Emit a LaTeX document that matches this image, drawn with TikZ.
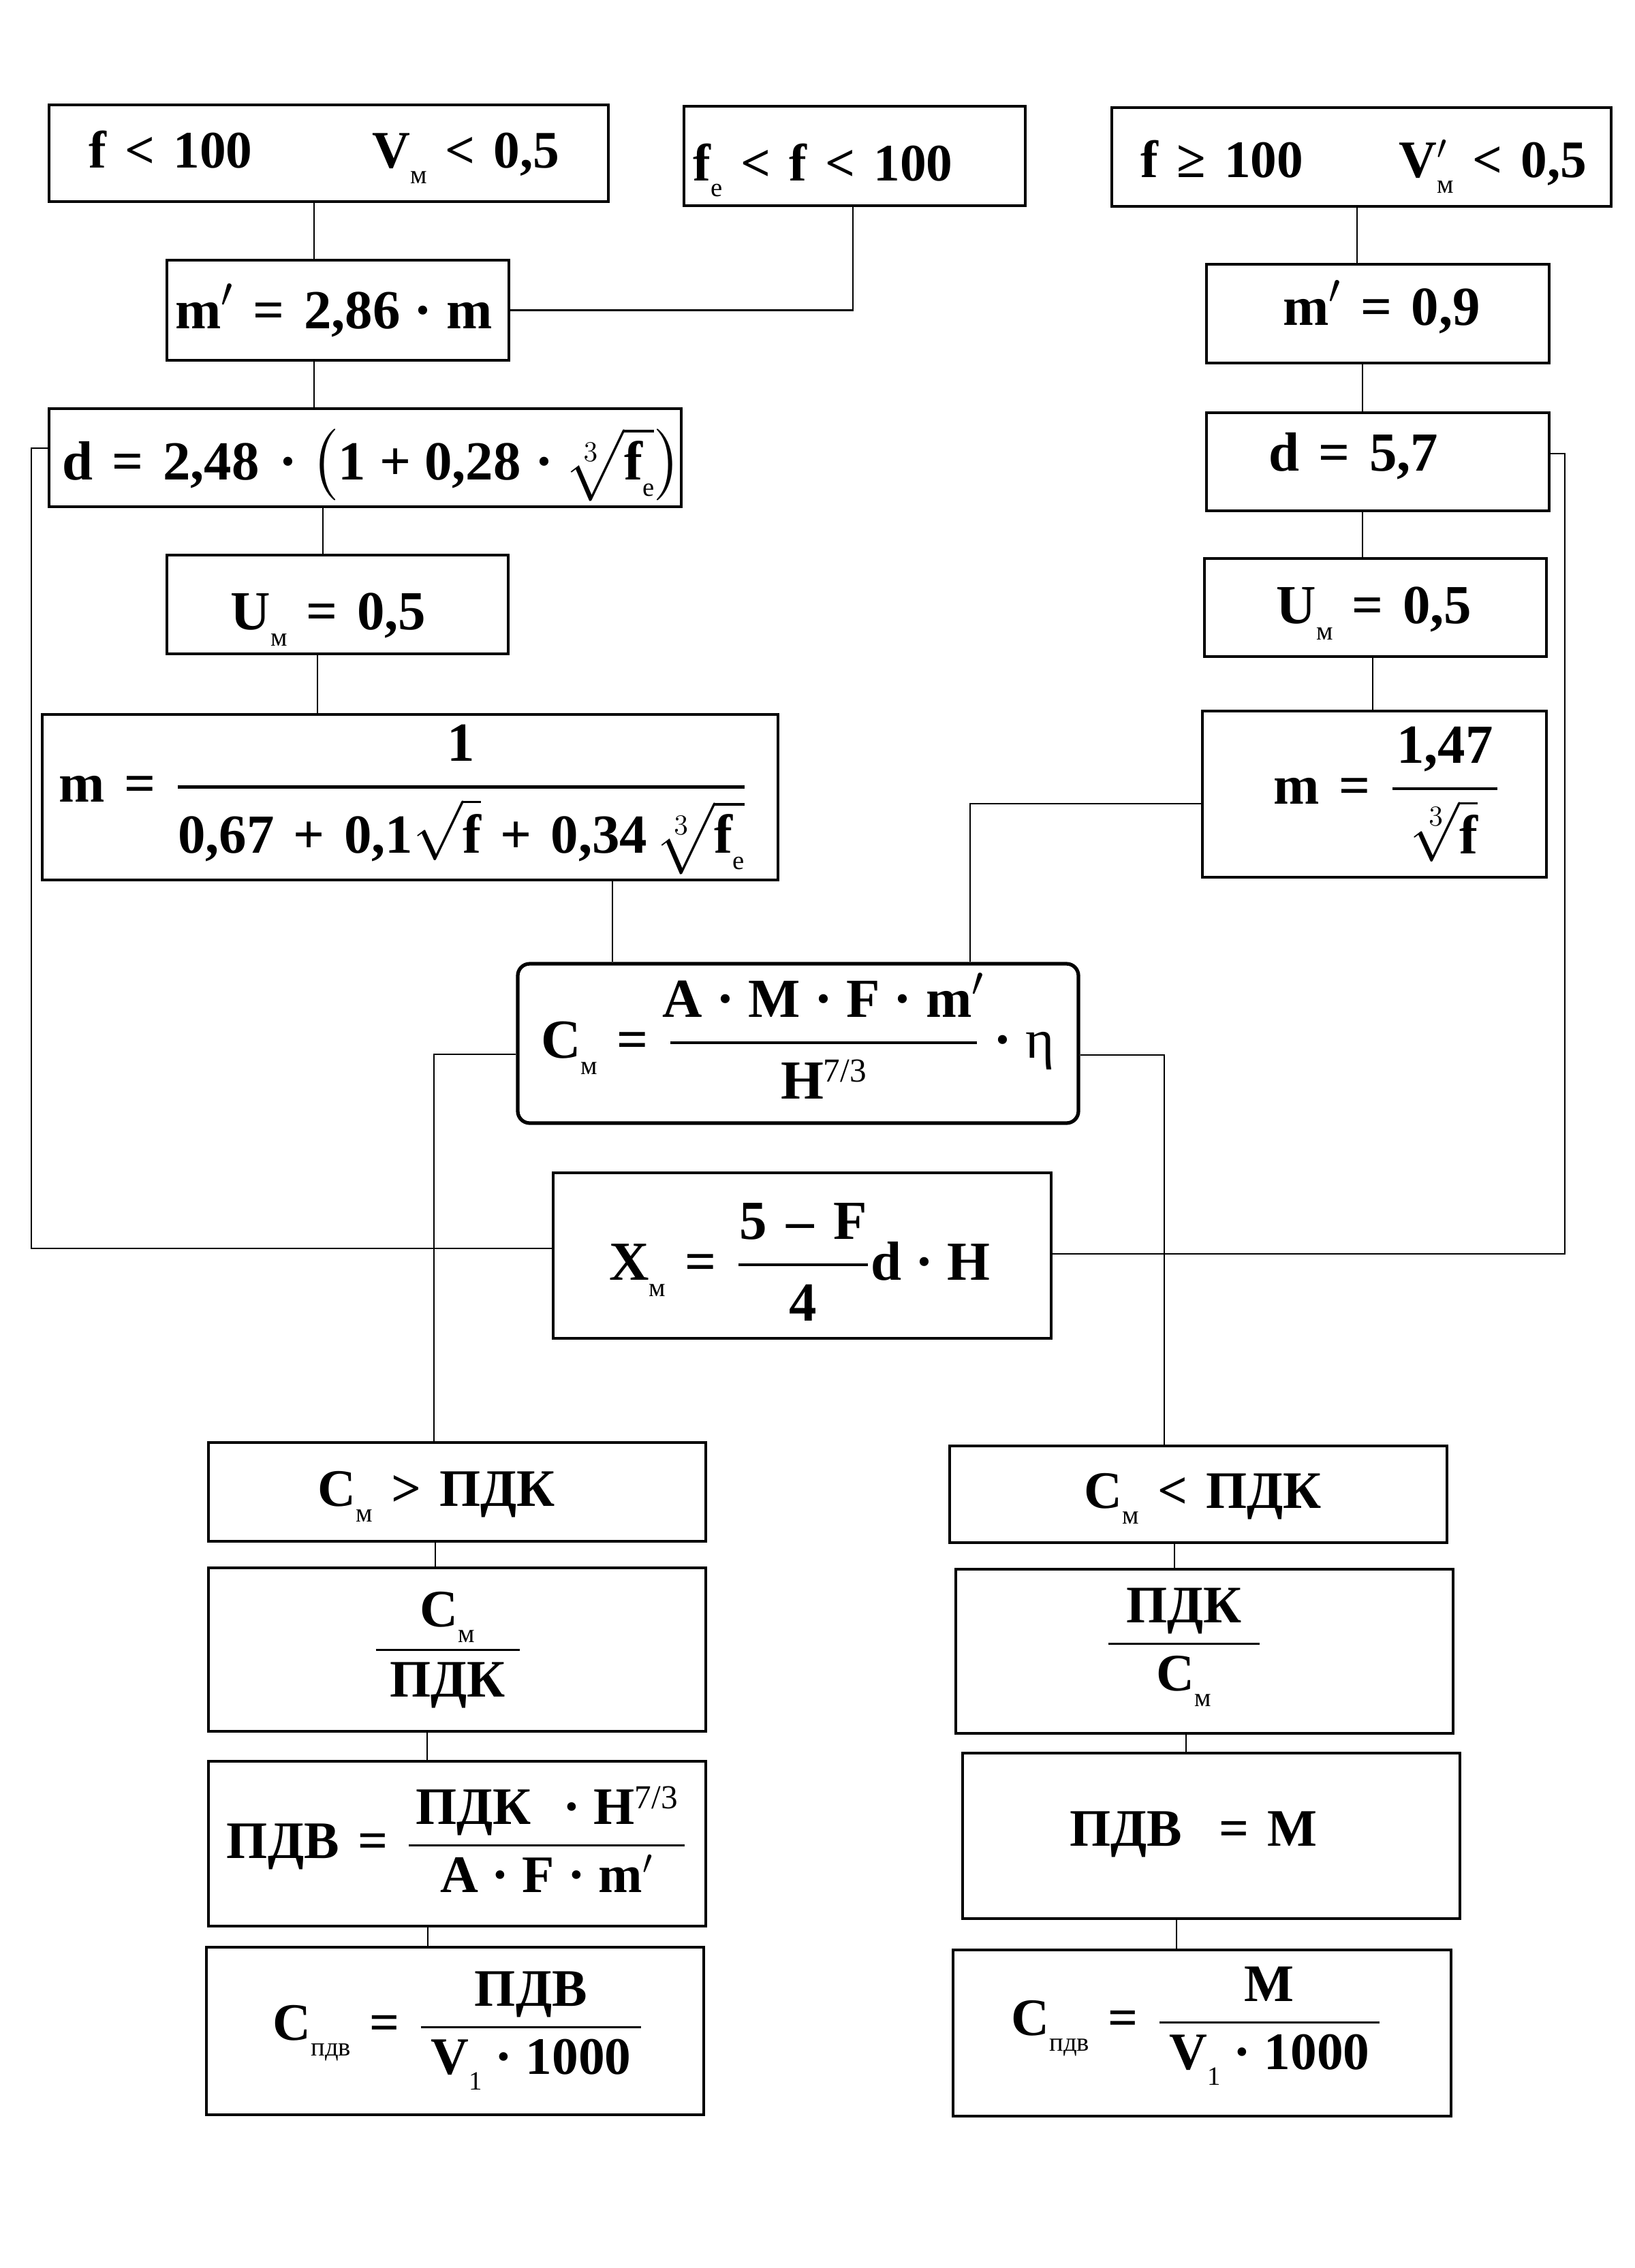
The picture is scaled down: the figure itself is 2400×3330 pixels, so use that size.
\documentclass[tikz,border=0pt]{standalone}
\usepackage{amsmath}
\usepackage{fontspec}
\setmainfont{Liberation Serif}
\usetikzlibrary{fit}
\newcommand\gp{\hspace{0.35em}}
\newcommand\hp{\hspace{0.25em}}
\newcommand\lo[1]{\raisebox{-0.3em}{\mdseries\fontsize{11}{11}\selectfont #1}}
\newcommand\upp[1]{\raisebox{0.3em}{\mdseries\fontsize{14}{14}\selectfont #1}}
\newcommand\fA{\bfseries\fontsize{22}{26.4}\selectfont}
\newcommand\fB{\bfseries\fontsize{23}{27.6}\selectfont}
\newcommand\fC{\bfseries\fontsize{22}{26.4}\selectfont}
\newcommand\fr[4]{\genfrac{}{}{#1}{0}{\makebox[#2]{#3}}{\makebox[#2]{#4}}}
\begin{document}
\begin{tikzpicture}[x=0.01cm,y=-0.01cm,
  box/.style={draw, line width=1.1pt, inner sep=0pt},
  rbox/.style={draw, line width=1.5pt, inner sep=0pt, rounded corners=5pt},
  txt/.style={inner sep=0pt, anchor=base},
  conn/.style={line width=0.7pt}]
\fill[white] (0,0) rectangle (2400,3330);
\useasboundingbox (0,0) rectangle (2400,3330);
% boxes
\node[box, fit={(72,154) (893,296)}] (b1) {};
\node[box, fit={(1004,156) (1505,302)}] (b2) {};
\node[box, fit={(1632,158) (2365,303)}] (b3) {};
\node[box, fit={(245,382) (747,529)}] (mpL) {};
\node[box, fit={(1771,388) (2274,533)}] (mpR) {};
\node[box, fit={(72,600) (1000,744)}] (dL) {};
\node[box, fit={(1771,606) (2274,750)}] (dR) {};
\node[box, fit={(245,815) (746,960)}] (UL) {};
\node[box, fit={(1768,820) (2270,964)}] (UR) {};
\node[box, fit={(62,1049) (1142,1292)}] (mL) {};
\node[box, fit={(1765,1044) (2270,1288)}] (mR) {};
\node[rbox, fit={(760,1415) (1583,1649)}] (cm) {};
\node[box, fit={(812,1722) (1543,1965)}] (xm) {};
\node[box, fit={(306,2118) (1036,2263)}] (L1) {};
\node[box, fit={(306,2302) (1036,2542)}] (L2) {};
\node[box, fit={(306,2586) (1036,2828)}] (L3) {};
\node[box, fit={(303,2859) (1033,3105)}] (L4) {};
\node[box, fit={(1394,2123) (2124,2265)}] (R1) {};
\node[box, fit={(1403,2304) (2133,2545)}] (R2) {};
\node[box, fit={(1413,2574) (2143,2817)}] (R3) {};
\node[box, fit={(1399,2863) (2130,3107)}] (R4) {};
% texts
\node[txt, font=\fA] (t1) at (476,246) {f\gp<\gp100\hspace{50pt}V\lo{м}\gp<\gp0,5};
\node[txt, font=\fA] (t2) at (1208,265) {f\lo{e}\gp<\gp f\gp<\gp100};
\node[txt, font=\fA] (t3) at (2002,260) {f\gp≥\gp100\hspace{40pt}V\rlap{$'$}\lo{м}\gp<\gp0,5};
\node[txt, font=\fB] (tmpL) at (490,482) {m$'$\gp=\gp2,86\hp·\hp m};
\node[txt, font=\fB] (tmpR) at (2028,477) {m$'$\gp=\gp0,9};
\node[txt, font=\fB] (tdL) at (546,704) {d\gp=\gp2,48\gp·\hp$\bigl(\text{1\hp+\hp0,28\hp·\hp}\sqrt[3]{\text{f\lo{e}}}\bigr)$};
\node[txt, font=\fB] (tdR) at (1987,691) {d\gp=\gp5,7};
\node[txt, font=\fB] (tUL) at (482,924) {U\lo{м}\gp=\gp0,5};
\node[txt, font=\fB] (tUR) at (2017,915) {U\lo{м}\gp=\gp0,5};
\node[txt, font=\fB] (tmL) at (592,1177) {m\gp=\gp$\genfrac{}{}{1.4pt}{0}{\text{1}}{\text{0,67\gp+\gp0,1}\sqrt{\text{f}}\text{\gp+\gp0,34}\,\sqrt[3]{\text{f\lo{e}}}}$};
\node[txt, font=\fB] (tmR) at (2036,1180) {m\gp=\gp$\fr{1.3pt}{44pt}{1,47}{$\sqrt[3]{\text{f}}$}$};
\node[txt, font=\fB] (tCm) at (1171,1553) {C\lo{м}\gp=\gp$\fr{1.3pt}{128pt}{A\hp·\hp M\hp·\hp F\hp·\hp m$'$}{H\upp{7/3}}$\hp·\hp{\mdseries η}};
\node[txt, font=\fB] (tX) at (1174,1879) {X\lo{м}\gp=\gp$\fr{1.2pt}{54pt}{5\gp–\gp F}{4}$d\hp·\hp H};
\node[txt, font=\fC] (tL1) at (641,2211) {C\lo{м}\gp>\gp ПДК};
\node[txt, font=\fC] (tL2) at (657,2441) {$\fr{0.9pt}{60pt}{C\lo{м}}{ПДК}$};
\node[txt, font=\fC] (tL3) at (671,2728) {ПДВ\gp=\gp$\fr{0.9pt}{115pt}{ПДК\hspace{0.6em}·\hp H\upp{7/3}}{A\hp·\hp F\hp·\hp m$'$}$};
\node[txt, font=\fC] (tL4) at (673,2995) {C\lo{пдв}\gp=\gp$\fr{0.9pt}{92pt}{ПДВ}{V\lo{1}\hp·\hp1000}$};
\node[txt, font=\fC] (tR1) at (1766,2214) {C\lo{м}\gp<\gp ПДК};
\node[txt, font=\fC] (tR2) at (1738,2432) {$\fr{0.9pt}{63pt}{ПДК}{C\lo{м}}$};
\node[txt, font=\fC] (tR3) at (1752,2710) {ПДВ\hspace{0.7em}=\gp M};
\node[txt, font=\fC] (tR4) at (1757,2988) {C\lo{пдв}\gp=\gp$\fr{0.9pt}{92pt}{M}{V\lo{1}\hp·\hp1000}$};
% connector coordinates
\coordinate (xa) at (461,0);
\coordinate (xb) at (1252,0);
\coordinate (xc) at (474,0);
\coordinate (xd) at (466,0);
\coordinate (xe) at (899,0);
\coordinate (xf) at (1992,0);
\coordinate (xg) at (2000,0);
\coordinate (xh) at (2015,0);
\coordinate (k1) at (1424,1180);
\coordinate (k2) at (46,658);
\coordinate (k3) at (46,1833);
\coordinate (k4) at (2297,666);
\coordinate (k5) at (2297,1841);
\coordinate (k6) at (637,1548);
\coordinate (k7) at (1709,1549);
\coordinate (y1) at (639,0);
\coordinate (y2) at (627,0);
\coordinate (y3) at (628,0);
\coordinate (z1) at (1724,0);
\coordinate (z2) at (1741,0);
\coordinate (z3) at (1727,0);
% connectors
\draw[conn] (b1.south -| xa) -- (mpL.north -| xa);
\draw[conn] (b2.south -| xb) |- (mpL.east);
\draw[conn] (mpL.south -| xa) -- (dL.north -| xa);
\draw[conn] (dL.south -| xc) -- (UL.north -| xc);
\draw[conn] (UL.south -| xd) -- (mL.north -| xd);
\draw[conn] (mL.south -| xe) -- (cm.north -| xe);
\draw[conn] (b3.south -| xf) -- (mpR.north -| xf);
\draw[conn] (mpR.south -| xg) -- (dR.north -| xg);
\draw[conn] (dR.south -| xg) -- (UR.north -| xg);
\draw[conn] (UR.south -| xh) -- (mR.north -| xh);
\draw[conn] (mR.west |- k1) -| (cm.north -| k1);
\draw[conn] (dL.west |- k2) -- (k2) -- (k3) -- (xm.west |- k3);
\draw[conn] (dR.east |- k4) -- (k4) -- (k5) -- (xm.east |- k5);
\draw[conn] (cm.west |- k6) -| (L1.north -| k6);
\draw[conn] (cm.east |- k7) -| (R1.north -| k7);
\draw[conn] (L1.south -| y1) -- (L2.north -| y1);
\draw[conn] (L2.south -| y2) -- (L3.north -| y2);
\draw[conn] (L3.south -| y3) -- (L4.north -| y3);
\draw[conn] (R1.south -| z1) -- (R2.north -| z1);
\draw[conn] (R2.south -| z2) -- (R3.north -| z2);
\draw[conn] (R3.south -| z3) -- (R4.north -| z3);
\end{tikzpicture}
\end{document}
